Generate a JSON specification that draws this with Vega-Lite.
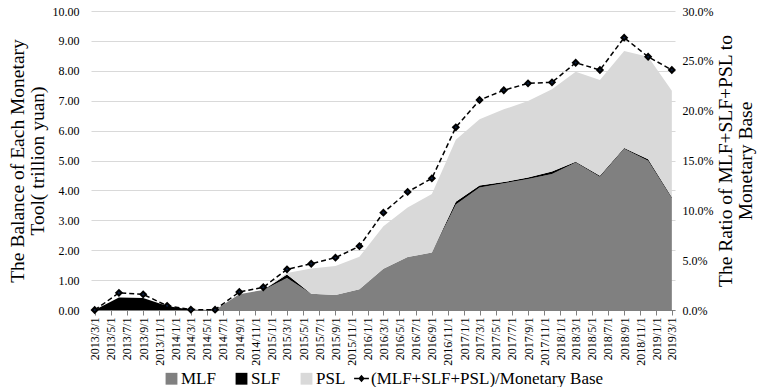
{
  "$schema": "https://vega.github.io/schema/vega-lite/v6.json",
  "width": 584,
  "height": 299,
  "padding": {"left": 6, "top": 5, "right": 5, "bottom": 0},
  "background": "white",
  "config": {
    "font": "Liberation Serif",
    "view": {"stroke": null},
    "axis": {
      "labelFont": "Liberation Serif",
      "titleFont": "Liberation Serif",
      "labelColor": "#000000",
      "titleColor": "#000000",
      "titleFontWeight": "normal",
      "labelFontSize": 12,
      "titleFontSize": 19.5,
      "titleLineHeight": 20
    },
    "legend": {
      "direction": "horizontal",
      "labelFont": "Liberation Serif",
      "labelFontSize": 17,
      "labelColor": "#000000",
      "labelLimit": 400,
      "symbolSize": 140,
      "labelOffset": 1,
      "columnPadding": 17,
      "padding": 0
    }
  },
  "data": {
    "values": [
      {"date": "2013-03-01", "MLF": 0, "SLF": 0, "PSL": 0, "ratio": 0},
      {"date": "2013-06-01", "MLF": 0, "SLF": 0.42, "PSL": 0, "ratio": 0.0172},
      {"date": "2013-09-01", "MLF": 0, "SLF": 0.40, "PSL": 0, "ratio": 0.0157},
      {"date": "2013-12-01", "MLF": 0, "SLF": 0.13, "PSL": 0, "ratio": 0.0042},
      {"date": "2014-03-01", "MLF": 0, "SLF": 0.01, "PSL": 0, "ratio": 0.0004},
      {"date": "2014-06-01", "MLF": 0, "SLF": 0, "PSL": 0, "ratio": 0.0003},
      {"date": "2014-09-01", "MLF": 0.53, "SLF": 0, "PSL": 0, "ratio": 0.0181},
      {"date": "2014-12-01", "MLF": 0.67, "SLF": 0, "PSL": 0, "ratio": 0.0228},
      {"date": "2015-03-01", "MLF": 1.07, "SLF": 0.12, "PSL": 0.05, "ratio": 0.0408},
      {"date": "2015-06-01", "MLF": 0.54, "SLF": 0, "PSL": 0.85, "ratio": 0.0464},
      {"date": "2015-09-01", "MLF": 0.50, "SLF": 0, "PSL": 0.97, "ratio": 0.0525},
      {"date": "2015-12-01", "MLF": 0.69, "SLF": 0, "PSL": 1.09, "ratio": 0.0640},
      {"date": "2016-03-01", "MLF": 1.38, "SLF": 0, "PSL": 1.42, "ratio": 0.0977},
      {"date": "2016-06-01", "MLF": 1.77, "SLF": 0, "PSL": 1.66, "ratio": 0.1185},
      {"date": "2016-09-01", "MLF": 1.92, "SLF": 0, "PSL": 1.96, "ratio": 0.1321},
      {"date": "2016-12-01", "MLF": 3.53, "SLF": 0.09, "PSL": 2.07, "ratio": 0.1833},
      {"date": "2017-03-01", "MLF": 4.10, "SLF": 0.06, "PSL": 2.22, "ratio": 0.2107},
      {"date": "2017-06-01", "MLF": 4.24, "SLF": 0.04, "PSL": 2.43, "ratio": 0.2205},
      {"date": "2017-09-01", "MLF": 4.38, "SLF": 0.05, "PSL": 2.56, "ratio": 0.2274},
      {"date": "2017-12-01", "MLF": 4.55, "SLF": 0.08, "PSL": 2.75, "ratio": 0.2284},
      {"date": "2018-03-01", "MLF": 4.93, "SLF": 0.03, "PSL": 3.01, "ratio": 0.2481},
      {"date": "2018-06-01", "MLF": 4.46, "SLF": 0.03, "PSL": 3.20, "ratio": 0.2408},
      {"date": "2018-09-01", "MLF": 5.39, "SLF": 0.03, "PSL": 3.24, "ratio": 0.2732},
      {"date": "2018-12-01", "MLF": 4.99, "SLF": 0.05, "PSL": 3.43, "ratio": 0.2541},
      {"date": "2019-03-01", "MLF": 3.74, "SLF": 0.03, "PSL": 3.56, "ratio": 0.2408}
    ]
  },
  "encoding": {
    "x": {
      "field": "date",
      "type": "temporal",
      "scale": {
        "type": "utc",
        "domain": [
          {"year": 2013, "month": 2, "date": 15, "utc": true},
          {"year": 2019, "month": 3, "date": 13, "utc": true}
        ]
      },
      "axis": {
        "title": null,
        "values": [
          {"year": 2013, "month": 3, "date": 1, "utc": true},
          {"year": 2013, "month": 5, "date": 1, "utc": true},
          {"year": 2013, "month": 7, "date": 1, "utc": true},
          {"year": 2013, "month": 9, "date": 1, "utc": true},
          {"year": 2013, "month": 11, "date": 1, "utc": true},
          {"year": 2014, "month": 1, "date": 1, "utc": true},
          {"year": 2014, "month": 3, "date": 1, "utc": true},
          {"year": 2014, "month": 5, "date": 1, "utc": true},
          {"year": 2014, "month": 7, "date": 1, "utc": true},
          {"year": 2014, "month": 9, "date": 1, "utc": true},
          {"year": 2014, "month": 11, "date": 1, "utc": true},
          {"year": 2015, "month": 1, "date": 1, "utc": true},
          {"year": 2015, "month": 3, "date": 1, "utc": true},
          {"year": 2015, "month": 5, "date": 1, "utc": true},
          {"year": 2015, "month": 7, "date": 1, "utc": true},
          {"year": 2015, "month": 9, "date": 1, "utc": true},
          {"year": 2015, "month": 11, "date": 1, "utc": true},
          {"year": 2016, "month": 1, "date": 1, "utc": true},
          {"year": 2016, "month": 3, "date": 1, "utc": true},
          {"year": 2016, "month": 5, "date": 1, "utc": true},
          {"year": 2016, "month": 7, "date": 1, "utc": true},
          {"year": 2016, "month": 9, "date": 1, "utc": true},
          {"year": 2016, "month": 11, "date": 1, "utc": true},
          {"year": 2017, "month": 1, "date": 1, "utc": true},
          {"year": 2017, "month": 3, "date": 1, "utc": true},
          {"year": 2017, "month": 5, "date": 1, "utc": true},
          {"year": 2017, "month": 7, "date": 1, "utc": true},
          {"year": 2017, "month": 9, "date": 1, "utc": true},
          {"year": 2017, "month": 11, "date": 1, "utc": true},
          {"year": 2018, "month": 1, "date": 1, "utc": true},
          {"year": 2018, "month": 3, "date": 1, "utc": true},
          {"year": 2018, "month": 5, "date": 1, "utc": true},
          {"year": 2018, "month": 7, "date": 1, "utc": true},
          {"year": 2018, "month": 9, "date": 1, "utc": true},
          {"year": 2018, "month": 11, "date": 1, "utc": true},
          {"year": 2019, "month": 1, "date": 1, "utc": true},
          {"year": 2019, "month": 3, "date": 1, "utc": true}
        ],
        "labelExpr": "utcFormat(datum.value, '%Y/%-m/%-d')",
        "labelFont": "Liberation Serif",
        "labelAngle": -90,
        "labelFontSize": 12,
        "labelOverlap": false,
        "labelFlush": false,
        "labelPadding": 2,
        "tickSize": 5,
        "tickColor": "#7f7f7f",
        "domainColor": "#7f7f7f",
        "grid": false
      }
    }
  },
  "layer": [
    {
      "transform": [
        {"fold": ["MLF", "SLF", "PSL"], "as": ["series", "value"]},
        {"calculate": "indexof(['MLF','SLF','PSL'], datum.series)", "as": "ord"}
      ],
      "mark": {"type": "area", "opacity": 1},
      "encoding": {
        "y": {
          "field": "value",
          "type": "quantitative",
          "stack": "zero",
          "scale": {"domain": [0, 10], "nice": false},
          "axis": {
            "title": ["The Balance of Each Monetary", "Tool( trillion yuan)"],
            "titleAngle": 270,
            "values": [0, 1, 2, 3, 4, 5, 6, 7, 8, 9, 10],
            "format": ".2f",
            "labelFont": "Liberation Serif",
            "domain": false,
            "ticks": false,
            "labelPadding": 12,
            "titlePadding": 5,
            "grid": true,
            "gridColor": "#d9d9d9",
            "gridWidth": 1
          }
        },
        "fill": {
          "field": "series",
          "type": "nominal",
          "scale": {"domain": ["MLF", "SLF", "PSL"], "range": ["#808080", "#000000", "#d9d9d9"]},
          "legend": {"title": null, "symbolType": "square", "orient": "none", "legendX": 72, "legendY": 359}
        },
        "order": {"field": "ord", "type": "quantitative"}
      }
    },
    {
      "mark": {
        "type": "line",
        "strokeDash": [5, 3],
        "strokeWidth": 1.5,
        "point": {"shape": "diamond", "filled": true, "fill": "#0d1f3f", "size": 30}
      },
      "encoding": {
        "y": {
          "field": "ratio",
          "type": "quantitative",
          "scale": {"domain": [0, 0.3], "nice": false},
          "axis": {
            "orient": "right",
            "title": ["The Ratio of MLF+SLF+PSL to", "Monetary Base"],
            "titleAngle": 270,
            "values": [0, 0.05, 0.1, 0.15, 0.2, 0.25, 0.3],
            "format": ".1%",
            "labelFont": "Liberation Serif",
            "domain": false,
            "ticks": false,
            "labelPadding": 7,
            "titlePadding": 3,
            "grid": false
          }
        },
        "stroke": {
          "datum": "(MLF+SLF+PSL)/Monetary Base",
          "type": "nominal",
          "scale": {"range": ["#000000"]},
          "legend": {"title": null, "orient": "none", "legendX": 262, "legendY": 359, "symbolType": "M-1,0L1,0M0,-0.35L0.3,0L0,0.35L-0.3,0Z", "symbolDash": [], "symbolStrokeWidth": 1.5, "symbolSize": 220}
        }
      }
    }
  ],
  "resolve": {"scale": {"y": "independent"}}
}
